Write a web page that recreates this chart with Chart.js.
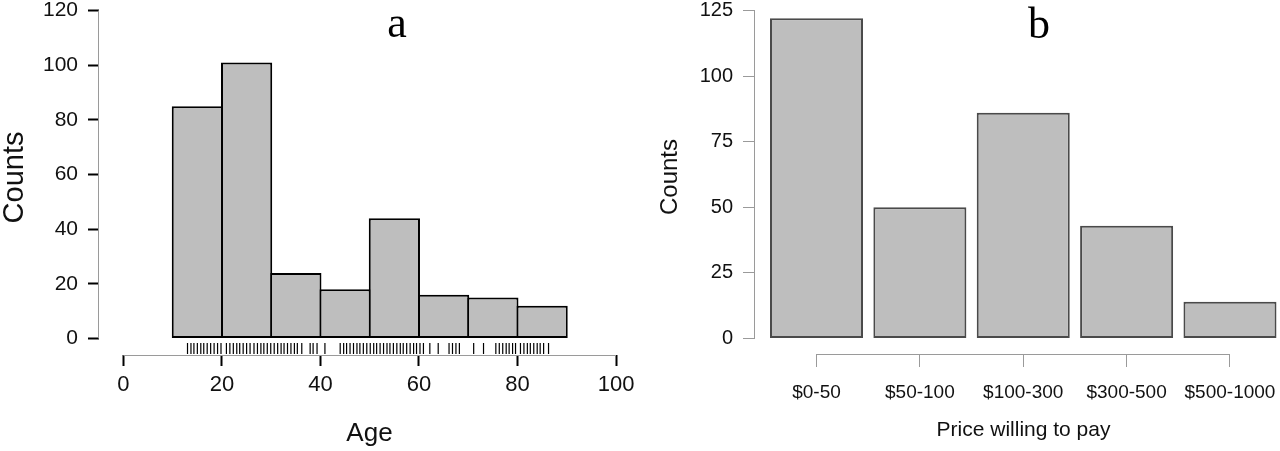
<!DOCTYPE html>
<html><head><meta charset="utf-8">
<script src="https://cdn.jsdelivr.net/npm/chart.js@4.4.0/dist/chart.umd.min.js"></script>
<style>
html,body{margin:0;padding:0;background:#fff;overflow:hidden;width:1280px;height:451px;}
#wa{position:absolute;left:0;top:0;width:640px;height:451px;}
#wb{position:absolute;left:640px;top:0;width:652px;height:451px;}
canvas{display:block;}
</style></head><body>
<div id="wa"><canvas id="ca" width="640" height="451"></canvas></div>
<div id="wb"><canvas id="cb" width="652" height="451"></canvas></div>
<script>
// ---- Panel a: age histogram ----
const ageBinEdges = [10,20,30,40,50,60,70,80,90];
const ageCounts = [85,101,24,18,44,16,15,12];
const ageRug = [13.0,13.7,14.3,15.0,15.7,16.3,17.0,17.7,18.4,19.1,19.8,20.9,21.6,22.3,23.0,23.6,24.3,25.0,25.7,26.5,27.2,27.9,28.5,29.2,29.9,30.6,31.3,32.0,32.6,33.3,34.0,34.7,35.3,36.2,37.9,38.5,39.3,40.9,44.0,44.7,45.3,46.0,46.7,47.4,48.0,48.7,49.4,50.1,50.8,51.4,52.1,52.8,53.5,54.1,54.8,55.5,56.2,56.8,57.5,58.2,58.9,59.5,60.2,60.9,62.2,63.9,66.1,66.8,67.5,68.2,71.1,73.1,75.6,76.3,77.0,77.7,78.3,79.0,79.6,80.6,81.3,82.0,82.6,83.3,84.0,84.6,85.3,86.3];
const ageXTicks = [0,20,40,60,80,100];
const ageYTicks = [0,20,40,60,80,100,120];

// ---- Panel b: price bar chart ----
const priceCategories = ['$0-50','$50-100','$100-300','$300-500','$500-1000'];
const priceCounts = [122,50,86,43,14];
const priceYTicks = [0,25,50,75,100,125];

Chart.defaults.font.family = '"Liberation Sans", Arial, Helvetica, sans-serif';
Chart.defaults.color = '#111';

function zeroPad(s){ s.paddingTop=0; s.paddingBottom=0; s.paddingLeft=0; s.paddingRight=0; }

const rAxes = {
  id:'rAxes',
  afterDraw(chart, args, o){
    const ctx = chart.ctx, xs = chart.scales.x, ys = chart.scales.y, ca = chart.chartArea;
    ctx.save();
    ctx.strokeStyle = o.color; ctx.lineWidth = 1;
    ctx.beginPath();
    const xl = Math.round(ca.left) - 0.5;
    ctx.moveTo(xl, ys.getPixelForValue(o.yTicks[0]));
    ctx.lineTo(xl, ys.getPixelForValue(o.yTicks[o.yTicks.length-1]));
    const yb = Math.round(ca.bottom) + 0.5;
    ctx.moveTo(xs.getPixelForValue(o.xTicks[0]), yb);
    ctx.lineTo(xs.getPixelForValue(o.xTicks[o.xTicks.length-1]), yb);
    ctx.stroke();
    ctx.fillStyle = '#000';
    ctx.font = o.labelFont;
    ctx.textAlign = 'center';
    ctx.textBaseline = 'alphabetic';
    ctx.fillText(o.label, o.labelX, o.labelY);
    ctx.restore();
  }
};

new Chart(document.getElementById('ca'), {
  type:'bar',
  data:{
    datasets:[
      {type:'bar', data: ageCounts.map((c,i)=>({x:(ageBinEdges[i]+ageBinEdges[i+1])/2, y:c})),
       backgroundColor:'#bebebe', borderColor:'#000', borderWidth:2, borderSkipped:false,
       barPercentage:1.04, categoryPercentage:1},
      {type:'scatter', data: ageRug.map(a=>({x:a, y:-3.66})),
       pointStyle:'line', rotation:90, radius:5.5, borderColor:'#000', borderWidth:1.2, backgroundColor:'#000'}
    ]
  },
  options:{
    responsive:false, animation:false,
    layout:{padding:0, autoPadding:false},
    plugins:{legend:{display:false}, tooltip:{enabled:false},
      rAxes:{color:'#9a9a9a', xTicks:ageXTicks, yTicks:ageYTicks, label:'a', labelFont:'44px "Liberation Serif", "Times New Roman", serif', labelX:397, labelY:37}},
    scales:{
      x:{type:'linear', min:-4.97, max:104.87, offset:false,
         afterBuildTicks(s){ s.ticks = ageXTicks.map(v=>({value:v})); },
         afterFit(s){ s.height = 96; zeroPad(s); },
         ticks:{font:{size:22}, color:'#111', padding:6, autoSkip:false, maxRotation:0},
         grid:{offset:false, drawOnChartArea:false, drawTicks:true, tickLength:11, tickColor:'#000', tickWidth:2},
         border:{display:false},
         title:{display:true, text:'Age', font:{size:26}, color:'#111', padding:{top:0, bottom:2}}
      },
      y:{type:'linear', min:-6.04, max:123.84,
         afterBuildTicks(s){ s.ticks = ageYTicks.map(v=>({value:v})); },
         afterFit(s){ s.width = 99; zeroPad(s); },
         ticks:{font:{size:21}, color:'#111', padding:10},
         grid:{drawOnChartArea:false, drawTicks:true, tickLength:11, tickColor:'#000', tickWidth:2},
         border:{display:false},
         title:{display:true, text:'Counts', font:{size:29, lineHeight:1}, color:'#111', padding:{top:0, bottom:0}}
      }
    }
  },
  plugins:[rAxes]
});

new Chart(document.getElementById('cb'), {
  type:'bar',
  data:{
    datasets:[
      {type:'bar', data: priceCounts.map((c,i)=>({x:i, y:c})),
       backgroundColor:'#bebebe', borderColor:'#4a4a4a', borderWidth:2, borderSkipped:false,
       barPercentage:0.9, categoryPercentage:1}
    ]
  },
  options:{
    responsive:false, animation:false,
    layout:{padding:0, autoPadding:false},
    plugins:{legend:{display:false}, tooltip:{enabled:false},
      rAxes:{color:'#9a9a9a', xTicks:[0, priceCategories.length-1], yTicks:priceYTicks, label:'b', labelFont:'44px "Liberation Serif", "Times New Roman", serif', labelX:399, labelY:38}},
    scales:{
      x:{type:'linear', min:-0.595, max:4.6, offset:false,
         afterBuildTicks(s){ s.ticks = priceCategories.map((_,i)=>({value:i})); },
         afterFit(s){ s.height = 451-354; zeroPad(s); },
         ticks:{font:{size:19}, color:'#111', padding:14, autoSkip:false, maxRotation:0,
                callback:(v)=>priceCategories[v]},
         grid:{offset:false, drawOnChartArea:false, drawTicks:true, tickLength:13, tickColor:'#9a9a9a', tickWidth:1},
         border:{display:false},
         title:{display:true, text:'Price willing to pay', font:{size:21}, color:'#111', padding:{top:0, bottom:8}}
      },
      y:{type:'linear', min:-5.91, max:129.0,
         afterBuildTicks(s){ s.ticks = priceYTicks.map(v=>({value:v})); },
         afterFit(s){ s.width = 115; zeroPad(s); },
         ticks:{font:{size:20}, color:'#111', padding:10},
         grid:{drawOnChartArea:false, drawTicks:true, tickLength:12, tickColor:'#9a9a9a', tickWidth:1},
         border:{display:false},
         title:{display:true, text:'Counts', font:{size:24}, color:'#111', padding:{top:16, bottom:0}}
      }
    }
  },
  plugins:[rAxes]
});
</script>
</body></html>
